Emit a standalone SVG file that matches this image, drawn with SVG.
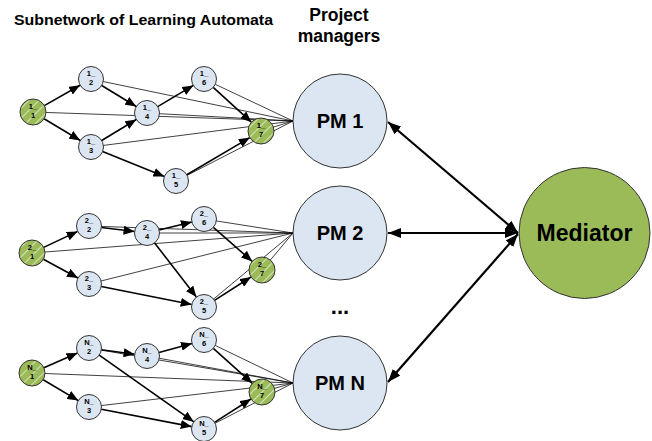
<svg xmlns="http://www.w3.org/2000/svg" width="652" height="441" viewBox="0 0 652 441">
<defs>
<style>
.t{font-family:"Liberation Sans",Arial,sans-serif;font-weight:bold;fill:#000}
.sm{font-size:7.5px;text-anchor:middle}
.n{fill:#dce6f2;stroke:#333;stroke-width:1}
.g{fill:url(#hatch);stroke:#333;stroke-width:1}
.thick{stroke:#000;stroke-width:1.6;fill:none;marker-end:url(#ah)}
.thin{stroke:#000;stroke-width:0.75;fill:none}
.big{stroke:#000;stroke-width:2.2;fill:none;marker-start:url(#bs);marker-end:url(#be)}
.pm{fill:#dce6f2;stroke:#333;stroke-width:1}
</style>
<pattern id="hatch" patternUnits="userSpaceOnUse" width="7" height="7" patternTransform="rotate(45)">
<rect width="7" height="7" fill="#9bbb59"/>
<line x1="0" y1="0" x2="0" y2="7" stroke="#fff" stroke-width="1.2"/>
</pattern>
<marker id="ah" markerUnits="userSpaceOnUse" markerWidth="11" markerHeight="9" refX="11" refY="4.5" orient="auto">
<path d="M0,0 L11,4.5 L0,9 z" fill="#000"/>
</marker>
<marker id="be" markerUnits="userSpaceOnUse" markerWidth="13" markerHeight="10" refX="13" refY="5" orient="auto">
<path d="M0,0 L13,5 L0,10 z" fill="#000"/>
</marker>
<marker id="bs" markerUnits="userSpaceOnUse" markerWidth="13" markerHeight="10" refX="0" refY="5" orient="auto">
<path d="M13,0 L0,5 L13,10 z" fill="#000"/>
</marker>
</defs>
<rect width="652" height="441" fill="#fff"/>

<text class="t" x="14" y="25" font-size="14" textLength="259" lengthAdjust="spacingAndGlyphs">Subnetwork of Learning Automata</text>
<text class="t" x="339" y="21" font-size="17.5" text-anchor="middle">Project</text>
<text class="t" x="339" y="42" font-size="17.5" text-anchor="middle">managers</text>

<g id="connectors">
<line class="thin" x1="91" y1="79" x2="293" y2="121"/>
<line class="thin" x1="204" y1="79" x2="293" y2="121"/>
<line class="thin" x1="33" y1="112" x2="293" y2="121"/>
<line class="thin" x1="147" y1="113" x2="293" y2="121"/>
<line class="thin" x1="91" y1="147" x2="293" y2="121"/>
<line class="thin" x1="176" y1="181" x2="293" y2="121"/>
<line class="thin" x1="261" y1="131" x2="293" y2="121"/>
<line class="thick" x1="44.3" y1="105.6" x2="80.1" y2="85.2"/>
<line class="thick" x1="44.1" y1="118.7" x2="80.3" y2="140.5"/>
<line class="thick" x1="101.7" y1="85.5" x2="136.3" y2="106.5"/>
<line class="thick" x1="101.7" y1="140.5" x2="136.3" y2="119.5"/>
<line class="thick" x1="102.6" y1="151.6" x2="164.4" y2="176.4"/>
<line class="thick" x1="157.7" y1="106.6" x2="193.3" y2="85.4"/>
<line class="thick" x1="213.2" y1="87.4" x2="251.4" y2="122.2"/>
<line class="thick" x1="186.8" y1="174.7" x2="249.8" y2="137.6"/>
<line class="thin" x1="89" y1="226" x2="293" y2="233"/>
<line class="thin" x1="147" y1="233" x2="293" y2="233"/>
<line class="thin" x1="204" y1="219" x2="293" y2="233"/>
<line class="thin" x1="32" y1="253" x2="293" y2="233"/>
<line class="thin" x1="89" y1="284" x2="293" y2="233"/>
<line class="thin" x1="204" y1="307" x2="293" y2="233"/>
<line class="thin" x1="262" y1="270" x2="293" y2="233"/>
<line class="thick" x1="43.7" y1="247.4" x2="77.7" y2="231.4"/>
<line class="thick" x1="43.4" y1="259.2" x2="78" y2="278"/>
<line class="thick" x1="101.4" y1="227.5" x2="134.6" y2="231.5"/>
<line class="thick" x1="159.1" y1="230" x2="191.9" y2="222"/>
<line class="thick" x1="154.6" y1="242.9" x2="196.4" y2="297.1"/>
<line class="thick" x1="101.3" y1="286.5" x2="191.7" y2="304.5"/>
<line class="thick" x1="213.4" y1="227.3" x2="252.2" y2="261.4"/>
<line class="thick" x1="214.5" y1="300.3" x2="251" y2="277"/>
<line class="thin" x1="89" y1="348" x2="293" y2="383"/>
<line class="thin" x1="147" y1="356" x2="293" y2="383"/>
<line class="thin" x1="204" y1="340" x2="293" y2="383"/>
<line class="thin" x1="32" y1="373" x2="293" y2="383"/>
<line class="thin" x1="89" y1="407" x2="293" y2="383"/>
<line class="thin" x1="204" y1="429" x2="293" y2="383"/>
<line class="thin" x1="262" y1="392" x2="293" y2="383"/>
<line class="thick" x1="43.9" y1="367.8" x2="77.5" y2="353"/>
<line class="thick" x1="43.2" y1="379.7" x2="78.3" y2="400.6"/>
<line class="thick" x1="101.4" y1="349.7" x2="134.6" y2="354.3"/>
<line class="thick" x1="159" y1="352.6" x2="192" y2="343.4"/>
<line class="thick" x1="99.2" y1="355.2" x2="193.8" y2="421.8"/>
<line class="thick" x1="101.3" y1="409.3" x2="191.7" y2="426.6"/>
<line class="thick" x1="213.3" y1="348.3" x2="252.3" y2="383.3"/>
<line class="thick" x1="214.5" y1="422.3" x2="251" y2="399"/>
<line class="big" x1="388" y1="122" x2="518" y2="233"/>
<line class="big" x1="388" y1="233" x2="518" y2="233"/>
<line class="big" x1="388" y1="382" x2="518" y2="234"/>
</g>

<g id="n1_1"><circle class="g" cx="33" cy="112" r="13"/><text class="t sm" x="33" y="109">1_</text><text class="t sm" x="33" y="118">1</text></g>
<g id="n1_2"><circle class="n" cx="91" cy="79" r="12.5"/><text class="t sm" x="91" y="76">1_</text><text class="t sm" x="91" y="85">2</text></g>
<g id="n1_3"><circle class="n" cx="91" cy="147" r="12.5"/><text class="t sm" x="91" y="144">1_</text><text class="t sm" x="91" y="153">3</text></g>
<g id="n1_4"><circle class="n" cx="147" cy="113" r="12.5"/><text class="t sm" x="147" y="110">1_</text><text class="t sm" x="147" y="119">4</text></g>
<g id="n1_5"><circle class="n" cx="176" cy="181" r="12.5"/><text class="t sm" x="176" y="178">1_</text><text class="t sm" x="176" y="187">5</text></g>
<g id="n1_6"><circle class="n" cx="204" cy="79" r="12.5"/><text class="t sm" x="204" y="76">1_</text><text class="t sm" x="204" y="85">6</text></g>
<g id="n1_7"><circle class="g" cx="261" cy="131" r="13"/><text class="t sm" x="261" y="128">1_</text><text class="t sm" x="261" y="137">7</text></g>

<g id="n2_1"><circle class="g" cx="32" cy="253" r="13"/><text class="t sm" x="32" y="250">2_</text><text class="t sm" x="32" y="259">1</text></g>
<g id="n2_2"><circle class="n" cx="89" cy="226" r="12.5"/><text class="t sm" x="89" y="223">2_</text><text class="t sm" x="89" y="232">2</text></g>
<g id="n2_3"><circle class="n" cx="89" cy="284" r="12.5"/><text class="t sm" x="89" y="281">2_</text><text class="t sm" x="89" y="290">3</text></g>
<g id="n2_4"><circle class="n" cx="147" cy="233" r="12.5"/><text class="t sm" x="147" y="230">2_</text><text class="t sm" x="147" y="239">4</text></g>
<g id="n2_5"><circle class="n" cx="204" cy="307" r="12.5"/><text class="t sm" x="204" y="304">2_</text><text class="t sm" x="204" y="313">5</text></g>
<g id="n2_6"><circle class="n" cx="204" cy="219" r="12.5"/><text class="t sm" x="204" y="216">2_</text><text class="t sm" x="204" y="225">6</text></g>
<g id="n2_7"><circle class="g" cx="262" cy="270" r="13"/><text class="t sm" x="262" y="267">2_</text><text class="t sm" x="262" y="276">7</text></g>

<g id="nN_1"><circle class="g" cx="32" cy="373" r="13"/><text class="t sm" x="32" y="370">N_</text><text class="t sm" x="32" y="379">1</text></g>
<g id="nN_2"><circle class="n" cx="89" cy="348" r="12.5"/><text class="t sm" x="89" y="345">N_</text><text class="t sm" x="89" y="354">2</text></g>
<g id="nN_3"><circle class="n" cx="89" cy="407" r="12.5"/><text class="t sm" x="89" y="404">N_</text><text class="t sm" x="89" y="413">3</text></g>
<g id="nN_4"><circle class="n" cx="147" cy="356" r="12.5"/><text class="t sm" x="147" y="353">N_</text><text class="t sm" x="147" y="362">4</text></g>
<g id="nN_5"><circle class="n" cx="204" cy="429" r="12.5"/><text class="t sm" x="204" y="426">N_</text><text class="t sm" x="204" y="435">5</text></g>
<g id="nN_6"><circle class="n" cx="204" cy="340" r="12.5"/><text class="t sm" x="204" y="337">N_</text><text class="t sm" x="204" y="346">6</text></g>
<g id="nN_7"><circle class="g" cx="262" cy="392" r="13"/><text class="t sm" x="262" y="389">N_</text><text class="t sm" x="262" y="398">7</text></g>

<g id="pm1"><circle class="pm" cx="340" cy="121" r="47"/><text class="t" x="340" y="128" font-size="20" text-anchor="middle">PM 1</text></g>
<g id="pm2"><circle class="pm" cx="340" cy="233" r="47"/><text class="t" x="340" y="240" font-size="20" text-anchor="middle">PM 2</text></g>
<g id="dots"><text class="t" x="340" y="314" font-size="22" text-anchor="middle">...</text></g>
<g id="pmN"><circle class="pm" cx="340" cy="383" r="47"/><text class="t" x="340" y="390" font-size="20" text-anchor="middle">PM N</text></g>
<g id="mediator"><circle cx="584.5" cy="233" r="65.5" fill="#9bbb59" stroke="#333" stroke-width="1"/><text class="t" x="584.5" y="241" font-size="23" text-anchor="middle">Mediator</text></g>
</svg>
